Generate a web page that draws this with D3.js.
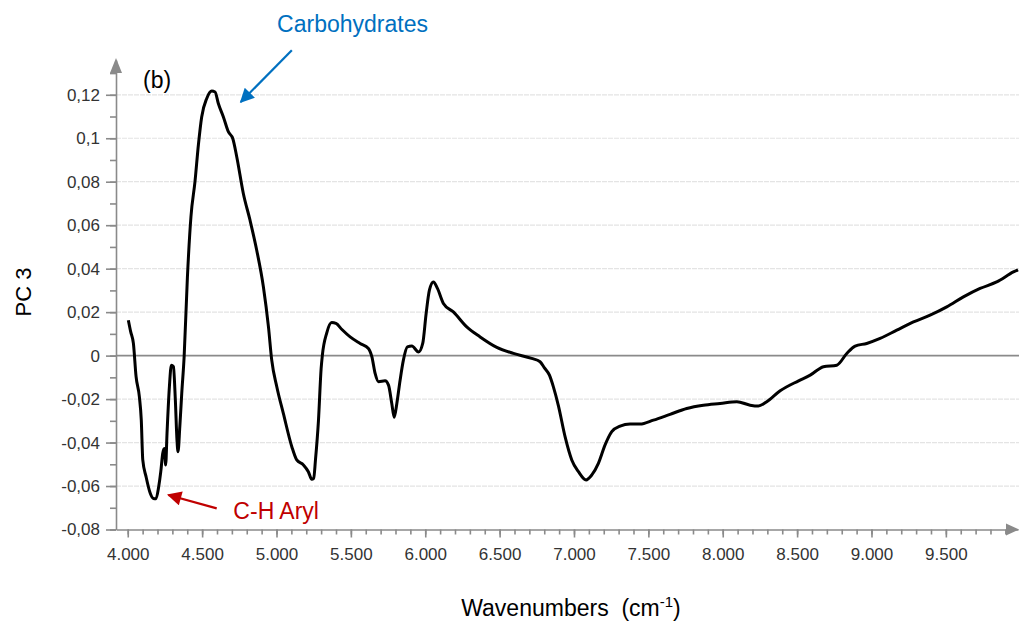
<!DOCTYPE html>
<html>
<head>
<meta charset="utf-8">
<script src="https://cdn.jsdelivr.net/npm/d3@7"></script>
<style>
  body { margin: 0; background: #fff; }
  text { font-family: "Liberation Sans", Arial, sans-serif; }
</style>
</head>
<body>
<svg></svg>
<script>
// PC3 loading spectrum
var wavenumbers = [4004, 4020, 4038, 4056, 4078, 4091, 4101, 4123, 4150, 4172, 4190, 4208, 4222, 4235, 4246, 4255, 4264, 4280, 4293, 4307, 4320, 4331, 4338, 4350, 4363, 4379, 4401,
    4425, 4452, 4475, 4497, 4531, 4565, 4587, 4609, 4643, 4677, 4706, 4733, 4777, 4822, 4867, 4912, 4946, 4968, 5002, 5046, 5103, 5136, 5181, 5214, 5237, 5250, 5262, 5282, 5300, 5308,
    5338, 5371, 5400, 5440, 5495, 5562, 5618, 5641, 5663, 5686, 5730, 5753, 5775, 5791, 5809, 5831, 5853, 5880, 5910, 5955, 5983, 6006, 6028, 6055, 6082, 6122, 6189, 6279, 6369, 6481,
    6593, 6715, 6772, 6800, 6835, 6862, 6895, 6940, 6985, 7030, 7081, 7120, 7164, 7209, 7254, 7310, 7377, 7444, 7534, 7646, 7758, 7870, 7982, 8095, 8184, 8240, 8296, 8386, 8510,
    8588, 8677, 8767, 8834, 8890, 8968, 9058, 9170, 9282, 9394, 9506, 9618, 9730, 9842, 9954, 9985];
var pc3 = [0.0163, 0.0109, 0.0056, -0.0097, -0.0189, -0.0297, -0.048, -0.0557, -0.0631, -0.0657, -0.0658, -0.0603, -0.0534, -0.045, -0.0427, -0.0503, -0.0358, -0.0143, -0.0044, -0.0051, -0.0205, -0.0389, -0.0442, -0.0327, -0.0174, -0.0006, 0.036,
    0.064, 0.080, 0.097, 0.1098, 0.1183, 0.1217, 0.1213, 0.116, 0.1098, 0.1029, 0.0999, 0.0914, 0.0746, 0.0623, 0.0485, 0.0316, 0.0132, -0.0021, -0.0143, -0.0266, -0.0419, -0.048, -0.0503, -0.0534, -0.0569, -0.0565, -0.048, -0.03, -0.006, 0,
    0.0105, 0.0152, 0.0148, 0.012, 0.0086, 0.0056, 0.0033, -0.0005, -0.0082, -0.012, -0.0116, -0.0136, -0.022, -0.0284, -0.022, -0.0113, -0.0021, 0.004, 0.0044, 0.0017, 0.0056, 0.0194, 0.0301, 0.0339, 0.0309, 0.024, 0.0201, 0.0132, 0.0086, 0.0038,
    0.001, -0.0013, -0.0028, -0.0055, -0.009, -0.0145, -0.023, -0.0373, -0.048, -0.0534, -0.0572, -0.0549, -0.0496, -0.0411, -0.035, -0.0324, -0.0315, -0.0315, -0.0297, -0.027, -0.0243, -0.0228, -0.022, -0.0212, -0.0228, -0.0232, -0.0212, -0.0162, -0.0116,
    -0.009, -0.0051, -0.0044, 0.001, 0.0044, 0.0056, 0.0079, 0.0117, 0.0155, 0.0186, 0.0224, 0.027, 0.0309, 0.0339, 0.0385, 0.0395];

var xTicks = [4000, 4500, 5000, 5500, 6000, 6500, 7000, 7500, 8000, 8500, 9000, 9500];
var yTicks = [-0.08, -0.06, -0.04, -0.02, 0, 0.02, 0.04, 0.06, 0.08, 0.1, 0.12];
var xMinorTicks = d3.range(4000, 10000, 100);
var yMinorTicks = d3.range(-8, 14, 1).map(function(d) { return d / 100; });

var xTitle = "Wavenumbers";
var yTitle = "PC 3";
var panelLabel = "(b)";
var annotations = [
    {label: "Carbohydrates", color: "#0070c0", head: [4760, 0.1167], tail: [5103, 0.1405], text: [5004, 0.1487]},
    {label: "C-H Aryl", color: "#c00000", head: [4273, -0.0641], tail: [4598, -0.0703], text: [4710, -0.0752]}
];

var viewWidth = 1019;
var viewHeight = 622;

var svg = d3.select("svg")
    .attr("width", viewWidth)
    .attr("height", viewHeight);

var locale = d3.formatLocale({decimal: ",", thousands: ".", grouping: [3], currency: ["", ""]});
var fmtX = locale.format(",d");
function fmtY(v) { return String(+v.toFixed(2)).replace(".", ","); }

function drawSpectrum() {
    var x = d3.scaleLinear()
        .domain([3921, 9985])
        .range([116, 1018]);

    var y = d3.scaleLinear()
        .domain([-0.08, 0.136])
        .range([529.5, 60]);

    // grid
    svg.append("g")
        .selectAll("line")
        .data(yTicks.filter(function(d) { return d !== 0 && d !== -0.08; }))
        .enter()
        .append("line")
        .attr("x1", 116).attr("x2", viewWidth)
        .attr("y1", function(d) { return y(d); })
        .attr("y2", function(d) { return y(d); })
        .style("stroke", "#e4e4e4")
        .style("stroke-width", 1.2)
        .style("stroke-dasharray", "5,1");

    svg.append("line")
        .attr("x1", 116).attr("x2", viewWidth)
        .attr("y1", y(0)).attr("y2", y(0))
        .style("stroke", "#8a8a8a")
        .style("stroke-width", 1.6);

    // minor ticks
    svg.append("g")
        .attr("transform", "translate(116,0)")
        .call(d3.axisLeft(y).tickValues(yMinorTicks).tickSize(6).tickFormat(""))
        .call(function(g) { g.select(".domain").remove(); });
    svg.append("g")
        .attr("transform", "translate(0," + y(-0.08) + ")")
        .call(d3.axisBottom(x).tickValues(xMinorTicks).tickSize(5).tickFormat(""))
        .call(function(g) { g.select(".domain").remove(); });

    // y axis
    var yAxis = svg.append("g")
        .attr("transform", "translate(116,0)")
        .call(d3.axisLeft(y).tickValues(yTicks).tickSize(10).tickSizeOuter(0).tickFormat(fmtY));
    yAxis.selectAll("text")
        .attr("x", -16)
        .style("font-size", "17px")
        .style("fill", "#333");

    // x axis
    var xAxis = svg.append("g")
        .attr("transform", "translate(0," + y(-0.08) + ")")
        .call(d3.axisBottom(x).tickValues(xTicks).tickSize(8).tickSizeOuter(0).tickFormat(fmtX));
    xAxis.selectAll("text")
        .attr("y", 18)
        .style("font-size", "17px")
        .style("fill", "#333");

    svg.selectAll(".domain, .tick line")
        .style("stroke", "#8a8a8a")
        .style("stroke-width", 1.6);

    // axis arrow heads
    svg.append("path")
        .attr("d", "M110,73 L116,58 L122,73 Z")
        .style("fill", "#8a8a8a");
    svg.append("path")
        .attr("d", "M1006,523.5 L1019,529.5 L1006,535.5 Z")
        .style("fill", "#8a8a8a");

    // curve
    var data = wavenumbers.map(function(w, i) { return {w: w, v: pc3[i]}; });
    var line = d3.line()
        .x(function(d) { return x(d.w); })
        .y(function(d) { return y(d.v); })
        .curve(d3.curveMonotoneX);

    svg.append("path")
        .datum(data)
        .attr("d", line)
        .style("fill", "none")
        .style("stroke", "#000")
        .style("stroke-width", 3)
        .style("stroke-linejoin", "round");

    // titles
    svg.append("text")
        .attr("transform", "translate(31,292) rotate(-90)")
        .style("text-anchor", "middle")
        .style("font-size", "22px")
        .text(yTitle);

    var xt = svg.append("text")
        .attr("x", 571)
        .attr("y", 616)
        .style("text-anchor", "middle")
        .style("font-size", "23px")
        .style("white-space", "pre");
    xt.append("tspan").text(xTitle + "  (cm");
    xt.append("tspan").attr("dy", -9).style("font-size", "15px").text("-1");
    xt.append("tspan").attr("dy", 9).text(")");

    svg.append("text")
        .attr("x", 143)
        .attr("y", 88)
        .style("font-size", "23px")
        .text(panelLabel);

    // annotations
    var defs = svg.append("defs");
    annotations.forEach(function(a, i) {
        defs.append("marker")
            .attr("id", "arrow" + i)
            .attr("viewBox", "0 0 10 10")
            .attr("refX", 9).attr("refY", 5)
            .attr("markerWidth", 7).attr("markerHeight", 6.5)
            .attr("orient", "auto")
            .append("path")
            .attr("d", "M0,0 L10,5 L0,10 Z")
            .style("fill", a.color);

        svg.append("line")
            .attr("x1", x(a.tail[0])).attr("y1", y(a.tail[1]))
            .attr("x2", x(a.head[0])).attr("y2", y(a.head[1]))
            .style("stroke", a.color)
            .style("stroke-width", 2.2)
            .attr("marker-end", "url(#arrow" + i + ")");

        svg.append("text")
            .attr("x", x(a.text[0]))
            .attr("y", y(a.text[1]))
            .style("font-size", "23px")
            .style("fill", a.color)
            .text(a.label);
    });
}

drawSpectrum();
</script>
</body>
</html>
